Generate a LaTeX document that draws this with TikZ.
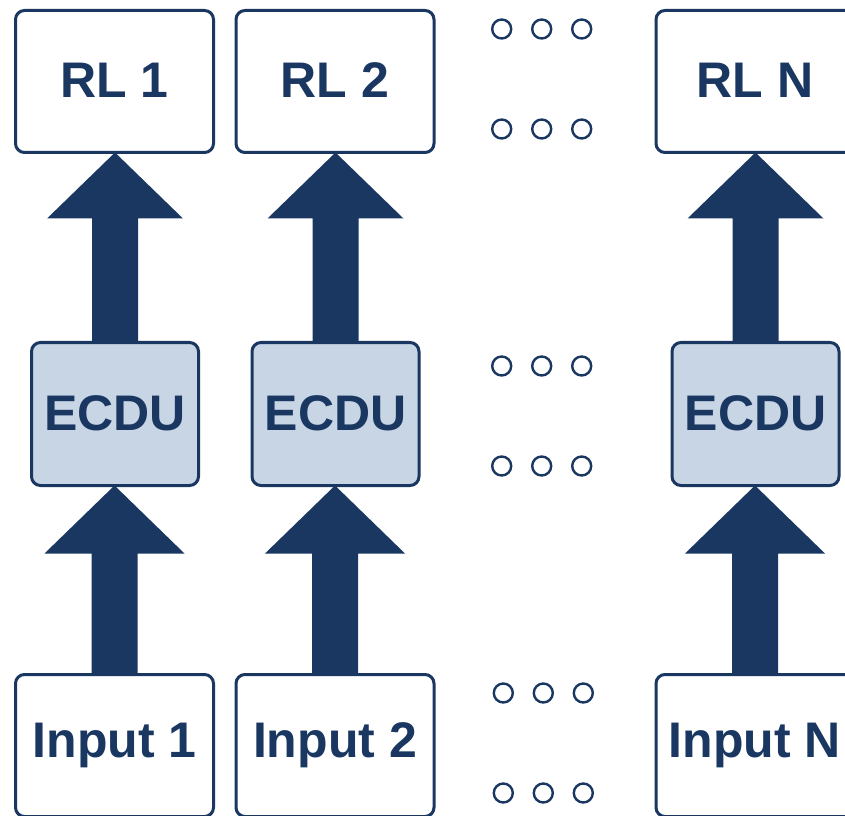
\documentclass[tikz,border=0pt]{standalone}
\usepackage{fontspec}
\setmainfont{Liberation Sans}
\usetikzlibrary{calc}
\definecolor{navy}{HTML}{1A3761}
\definecolor{ecdufill}{HTML}{C8D5E5}
\begin{document}
\begin{tikzpicture}[x=1pt,y=1pt,
  box/.style={draw=navy, line width=3pt, rounded corners=9pt, fill=white,
    minimum width=198pt, minimum height=142pt, outer sep=0pt, inner sep=0pt,
    text=navy, font=\fontsize{50}{58}\selectfont\bfseries},
  ecdubox/.style={box, fill=ecdufill, minimum width=167pt, minimum height=143pt},
  dot/.style={circle, draw=navy, line width=2.4pt, minimum size=19pt, inner sep=0pt}]
\useasboundingbox (0,0) rectangle (845,815);
\clip (0,0) rectangle (845,815);

\foreach \m/\cx/\t in {1/114.5/1, 2/335/2, N/755/N}{
  \node[box] (rl\m) at (\cx,733.5) {\raisebox{2pt}{RL \t}};
  \node[ecdubox] (ecdu\m) at (\cx+0.5,401) {\raisebox{2pt}{ECDU}};
  \node[box] (in\m) at (\cx,69.5) {Input \t};
}

\foreach \m in {1,2,N}{
  \fill[navy] let \p1=(ecdu\m.north), \p2=(rl\m.south) in
    (\x1-23pt,\y1) -- (\x1-23pt,\y2-66pt) -- (\x1-68pt,\y2-66pt) -- (\x1,\y2)
    -- (\x1+68pt,\y2-66pt) -- (\x1+23pt,\y2-66pt) -- (\x1+23pt,\y1) -- cycle;
  \fill[navy] let \p1=(in\m.north), \p2=(ecdu\m.south) in
    (\x1-23pt,\y1) -- (\x1-23pt,\y2-68pt) -- (\x1-70pt,\y2-68pt) -- (\x1,\y2)
    -- (\x1+70pt,\y2-68pt) -- (\x1+23pt,\y2-68pt) -- (\x1+23pt,\y1) -- cycle;
}

\foreach \r/\cy/\xo in {a/786/0, b/686/0, c/449/0, d/349/0, e/122/1.6, f/22/1.6}{
  \foreach \k/\cx in {1/501.7, 2/541.7, 3/581.7}{
    \node[dot] (dot\r\k) at (\cx+\xo,\cy) {};
  }
}
\end{tikzpicture}
\end{document}
